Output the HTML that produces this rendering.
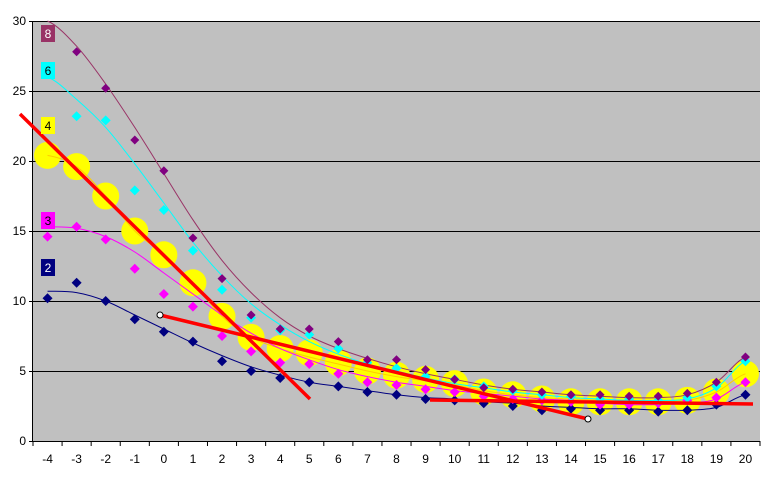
<!DOCTYPE html>
<html><head><meta charset="utf-8"><style>
body{margin:0;background:#fff;width:770px;height:479px;overflow:hidden}
text{font-family:"Liberation Sans",Arial,sans-serif;font-size:12px}
</style></head><body>
<svg id="s" width="770" height="479" xmlns="http://www.w3.org/2000/svg">
<rect x="33" y="21" width="727" height="420" fill="#c0c0c0"/>
<g stroke="#000" stroke-width="1">
<line x1="33" y1="21.5" x2="760" y2="21.5"/>
<line x1="33" y1="91.5" x2="760" y2="91.5"/>
<line x1="33" y1="161.5" x2="760" y2="161.5"/>
<line x1="33" y1="231.5" x2="760" y2="231.5"/>
<line x1="33" y1="301.5" x2="760" y2="301.5"/>
<line x1="33" y1="371.5" x2="760" y2="371.5"/>
<line x1="33" y1="441.5" x2="760" y2="441.5"/>
<line x1="32.5" y1="21" x2="32.5" y2="442"/>
</g>
<g id="g"></g>
</svg>
<script>
const NS="http://www.w3.org/2000/svg",g=document.getElementById('g'),s=document.getElementById('s');
function el(t,a,p){const e=document.createElementNS(NS,t);for(const k in a)e.setAttribute(k,a[k]);(p||g).appendChild(e);return e;}
const X=i=>33+29.08*(i+0.5), Y=v=>441-14*v;
for(let v=0;v<=30;v+=5){el('line',{x1:29,x2:33,y1:Y(v)+.5,y2:Y(v)+.5,stroke:'#000'},s);const t=el('text',{x:26,y:Y(v)+4,'text-anchor':'end'},s);t.textContent=v;}
for(let i=0;i<=25;i++){el('line',{x1:33+29.08*i,x2:33+29.08*i,y1:441,y2:446,stroke:'#000'},s);}
for(let i=0;i<25;i++){const t=el('text',{x:X(i),y:463,'text-anchor':'middle'},s);t.textContent=i-4;}
const D={
n:[10.2,11.3,10,8.7,7.8,7.1,5.7,5,4.5,4.2,3.9,3.5,3.3,3,2.9,2.7,2.5,2.2,2.3,2.2,2.2,2.1,2.2,2.6,3.3],
m:[14.6,15.3,14.4,12.3,10.5,9.6,7.5,6.4,5.6,5.5,4.8,4.2,4.0,3.7,3.5,3.2,3,2.9,2.8,2.6,2.6,2.7,2.9,3.1,4.2],
y:[20.4,19.6,17.5,15,13.3,11.3,8.9,7.4,6.6,6.3,5.6,5.0,4.7,4.4,4.1,3.5,3.3,3.0,2.8,2.8,2.8,2.8,2.9,3.5,4.8],
c:[26.5,23.2,22.9,17.9,16.5,13.6,10.8,8.8,7.9,7.6,6.6,5.6,5.2,4.6,4.4,3.9,3.6,3.3,3.2,3.0,3.0,2.9,3.1,3.9,5.7],
p:[31,27.8,25.2,21.5,19.3,14.5,11.6,9,8,8,7.1,5.8,5.8,5.1,4.4,3.8,3.7,3.5,3.3,3.3,3.2,3.2,3.4,4.2,6.0]};
const T={
n:[10.7,10.6,10,9,8,7,6.1,5.3,4.7,4.2,3.9,3.6,3.3,3.1,3,2.8,2.7,2.5,2.4,2.3,2.3,2.2,2.2,2.4,3.3],
m:[15.3,15.2,14.6,13.5,12,10.5,9,7.7,6.6,5.8,5.1,4.6,4.2,3.9,3.6,3.4,3.2,3.0,2.9,2.7,2.6,2.6,2.7,3.0,4.2],
y:[20.4,19.6,17.5,15,13.3,11.3,8.9,7.4,6.6,6.0,5.5,5.0,4.6,4.3,4.0,3.6,3.3,3.1,3.0,2.9,2.8,2.8,2.9,3.5,4.8],
c:[26,24.4,22.4,19.8,17.0,14.2,11.8,9.8,8.3,7.1,6.2,5.5,5.0,4.5,4.1,3.8,3.5,3.3,3.1,3.0,2.9,2.9,3.0,3.8,5.7],
p:[30,28.2,25.5,22.4,19.1,15.8,12.9,10.6,8.8,7.5,6.6,5.9,5.3,4.8,4.4,4.0,3.7,3.5,3.3,3.2,3.1,3.1,3.3,4.2,6.0]};
const C={n:'#000080',m:'#ff00ff',y:'#ffff00',c:'#00ffff',p:'#800080'};
const LC={n:'#000080',m:'#ff00ff',y:'#ffcc00',c:'#00ffff',p:'#993366'};
function path(a){let d='';for(let i=0;i<a.length;i++){const x=X(i),y=Y(a[i]);if(i==0){d+='M'+x+','+y;continue;}
const p0=a[Math.max(i-2,0)],p1=a[i-1],p2=a[i],p3=a[Math.min(i+1,a.length-1)];
d+=` C${X(i-1)+29.08/3},${Y(p1)-14*(p2-p0)/6} ${x-29.08/3},${Y(p2)+14*(p3-p1)/6} ${x},${y}`;}return d;}
D.y.forEach((v,i)=>el('circle',{cx:X(i),cy:Y(v),r:13.5,fill:'#ffff00'}));
['y','m','n','c','p'].forEach(k=>{el('path',{d:path(T[k]),fill:'none',stroke:LC[k],'stroke-width':1});});
['n','m','c','p'].forEach(k=>D[k].forEach((v,i)=>{if(k=='p'&&i==0)return;const x=X(i),y=Y(v),r=k=='p'?4.5:5;el('polygon',{points:`${x},${y-r} ${x+r},${y} ${x},${y+r} ${x-r},${y}`,fill:C[k]});}));
el('line',{x1:20,y1:114,x2:310,y2:399,stroke:'#ff0000','stroke-width':3.5});
el('line',{x1:160,y1:315,x2:588,y2:419,stroke:'#ff0000','stroke-width':3.5});
el('line',{x1:430,y1:400,x2:753,y2:404,stroke:'#ff0000','stroke-width':3.5});
el('circle',{cx:160,cy:315,r:3,fill:'#fff',stroke:'#000'});
el('circle',{cx:588,cy:419,r:3,fill:'#fff',stroke:'#000'});
[['8',25,'#993366','#fff'],['6',62,'#00ffff','#000'],['4',117,'#ffff00','#000'],['3',212,'#ff00ff','#000'],['2',259,'#000080','#fff']].forEach(([t,y,bg,fg])=>{el('rect',{x:41,y:y,width:14,height:17,fill:bg});const e=el('text',{x:48,y:y+13,'text-anchor':'middle',fill:fg});e.textContent=t;});
</script>
</body></html>
